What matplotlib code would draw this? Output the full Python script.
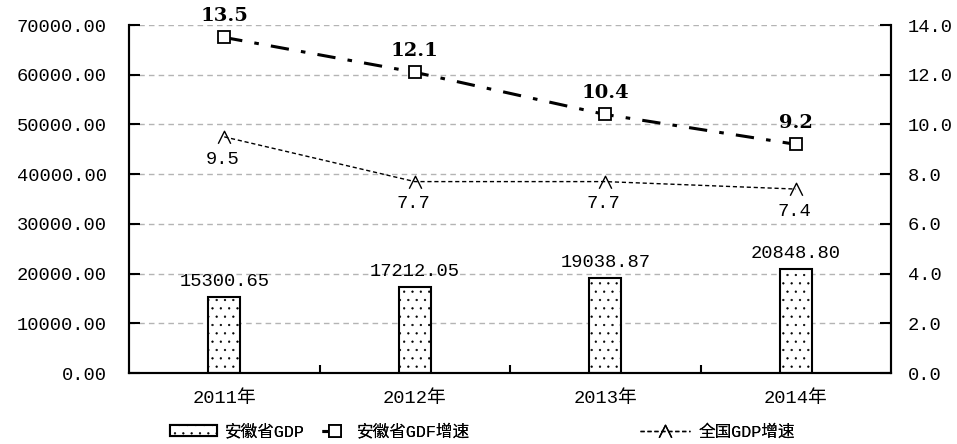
"""Anhui GDP vs growth rate, 2011-2014 (bar + twin-axis lines)."""

import matplotlib

matplotlib.use("Agg")
import matplotlib.pyplot as plt
from matplotlib.path import Path
from matplotlib.ticker import FixedLocator, NullFormatter

plt.rcParams["font.family"] = ["Liberation Mono", "Noto Sans CJK SC"]
plt.rcParams["hatch.linewidth"] = 0.4
plt.rcParams["hatch.color"] = "#222222"

years = ["2011年", "2012年", "2013年", "2014年"]
anhui_gdp = [15300.65, 17212.05, 19038.87, 20848.80]
anhui_growth = [13.5, 12.1, 10.4, 9.2]
national_growth = [9.5, 7.7, 7.7, 7.4]
left_ticks = [0, 10000, 20000, 30000, 40000, 50000, 60000, 70000]
right_ticks = [0, 2, 4, 6, 8, 10, 12, 14]

TICK_SIZE = 13.5
caret = Path([(-1.0, -1.0), (0.0, 1.0), (1.0, -1.0)],
             [Path.MOVETO, Path.LINETO, Path.LINETO])

fig = plt.figure(figsize=(9.57, 4.44), dpi=100)
ax = fig.add_axes([129 / 957, 71 / 444, 762 / 957, 348 / 444])
ax2 = ax.twinx()

x = list(range(len(years)))

# bars on the left axis
bars = ax.bar(x, anhui_gdp, width=0.17, facecolor="white", edgecolor="black",
              linewidth=1.5, hatch="..", label="安徽省GDP", zorder=2)
for xi, val in zip(x, anhui_gdp):
    ax.annotate(f"{val:.2f}", (xi, val), xytext=(0, 5), textcoords="offset points",
                ha="center", va="bottom", fontsize=TICK_SIZE)

ax.set_xlim(-0.5, len(years) - 0.5)
ax.set_ylim(0, 70000)
ax.set_yticks(left_ticks)
ax.set_yticklabels([f"{v:.2f}" for v in left_ticks], fontsize=TICK_SIZE)
ax.yaxis.grid(True, color="#b4b4b4", linestyle=(0, (4, 3)), linewidth=1)
ax.set_axisbelow(True)

ax.xaxis.set_major_locator(FixedLocator([0.5, 1.5, 2.5]))
ax.xaxis.set_major_formatter(NullFormatter())
ax.xaxis.set_minor_locator(FixedLocator(x))
ax.set_xticklabels(years, minor=True, fontsize=TICK_SIZE)
ax.tick_params(axis="x", which="major", direction="in", length=6, width=1.5)
ax.tick_params(axis="x", which="minor", length=0, pad=12)
ax.tick_params(axis="y", direction="in", length=8, width=1.5, pad=16)

# growth lines on the right axis
line_ah, = ax2.plot(x, anhui_growth, color="black", linewidth=2.2,
                    linestyle=(0, (6, 4, 1.5, 4)), marker="s", markersize=9,
                    markerfacecolor="white", markeredgecolor="black",
                    markeredgewidth=1.3, label="安徽省GDF增速", zorder=3)
line_cn, = ax2.plot(x, national_growth, color="black", linewidth=1,
                    linestyle=(0, (3, 2)), marker=caret, markersize=9,
                    markerfacecolor="none", markeredgecolor="black",
                    markeredgewidth=1, label="全国GDP增速", zorder=3)
for xi, val in zip(x, anhui_growth):
    ax2.annotate(f"{val}", (xi, val), xytext=(0, 9), textcoords="offset points",
                 ha="center", va="bottom", fontsize=14, fontweight="bold",
                 family="DejaVu Serif")
for xi, val in zip(x, national_growth):
    ax2.annotate(f"{val}", (xi, val), xytext=(-1, -10), textcoords="offset points",
                 ha="center", va="top", fontsize=TICK_SIZE)

ax2.set_ylim(0, 14)
ax2.set_yticks(right_ticks)
ax2.set_yticklabels([f"{v:.1f}" for v in right_ticks], fontsize=TICK_SIZE)
ax2.tick_params(axis="y", direction="in", length=8, width=1.5, pad=12)

for a in (ax, ax2):
    a.spines["top"].set_visible(False)
    for side in ("left", "right", "bottom"):
        a.spines[side].set_linewidth(1.5)

# three separate legend entries, spaced like the original
legend_specs = [(bars, 170 / 957, 2.8), (line_ah, 322 / 957, 1.6), (line_cn, 640 / 957, 3.0)]
for handle, x0, hlen in legend_specs:
    leg = fig.legend(handles=[handle], loc="center left",
                     bbox_to_anchor=(x0, 0.028), frameon=False, fontsize=12,
                     handlelength=hlen, handletextpad=0.5, borderaxespad=0,
                     borderpad=0)
    fig.add_artist(leg)

fig.savefig("out.png", dpi=100)
